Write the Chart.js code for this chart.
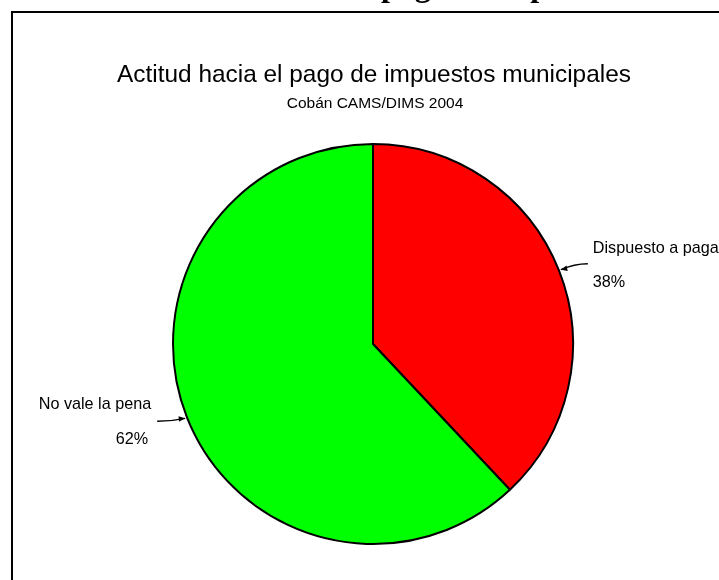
<!DOCTYPE html>
<html><head><meta charset="utf-8">
<script src="https://cdn.jsdelivr.net/npm/chart.js@4/dist/chart.umd.min.js"></script>
<style>html,body{margin:0;padding:0;background:#fff;overflow:hidden}canvas{display:block}</style>
</head><body>
<canvas id="c" width="719" height="580"></canvas>
<script>
const categories = ["Dispuesto a pagar", "No vale la pena"];
const values = [38, 62];
const percentLabels = ["38%", "62%"];
const sliceColors = ["#FF0000", "#00FF00"];
const titleText = "Actitud hacia el pago de impuestos municipales";
const subtitleText = "Cobán CAMS/DIMS 2004";
const headerText = "Actitud hacia el pago de impuestos municipales";

const SANS = '"Liberation Sans", Arial, sans-serif';
const SERIF = '"Liberation Serif", "Times New Roman", serif';

const decorPlugin = {
  id: 'decor',
  beforeDraw(chart) {
    const ctx = chart.ctx;
    ctx.save();
    ctx.fillStyle = '#fff';
    ctx.fillRect(0, 0, chart.width, chart.height);
    // cropped page header (bold serif)
    ctx.font = 'bold 32px ' + SERIF;
    ctx.fillStyle = '#000';
    ctx.textBaseline = 'alphabetic';
    ctx.textAlign = 'left';
    const pre = ctx.measureText('Actitud hacia el ').width;
    ctx.fillText(headerText, 381 - pre, -4);
    // frame
    ctx.strokeStyle = '#000';
    ctx.lineWidth = 2;
    ctx.beginPath();
    ctx.moveTo(12, chart.height + 5);
    ctx.lineTo(12, 12);
    ctx.lineTo(chart.width + 5, 12);
    ctx.stroke();
    // titles
    ctx.textAlign = 'center';
    ctx.textBaseline = 'middle';
    ctx.font = '24.4px ' + SANS;
    ctx.fillText(titleText, 374, 75);
    ctx.font = '15.5px ' + SANS;
    ctx.fillText(subtitleText, 375, 104);
    ctx.restore();
  },
  afterDraw(chart) {
    const ctx = chart.ctx;
    const meta = chart.getDatasetMeta(0);
    ctx.save();
    ctx.fillStyle = '#000';
    ctx.strokeStyle = '#000';
    ctx.lineWidth = 1.5;
    ctx.font = '16.2px ' + SANS;
    meta.data.forEach((arc, i) => {
      const p = arc.getProps(['x', 'y', 'startAngle', 'endAngle', 'outerRadius'], true);
      const mid = (p.startAngle + p.endAngle) / 2;
      const R = p.outerRadius + 2;
      const ax = p.x + Math.cos(mid) * R;
      const ay = p.y + Math.sin(mid) * R;
      const right = Math.cos(mid) >= 0;
      const tx = ax + (right ? 27 : -28);
      const ty = ay + (right ? -6 : 3);
      // leader
      ctx.beginPath();
      ctx.moveTo(tx, ty);
      ctx.quadraticCurveTo((tx + ax) / 2, ty, ax, ay);
      ctx.stroke();
      // arrow head
      const ang = Math.atan2(ay - ty, ax - tx);
      const hs = 7;
      ctx.beginPath();
      ctx.moveTo(ax, ay);
      ctx.lineTo(ax - hs * Math.cos(ang - 0.4), ay - hs * Math.sin(ang - 0.4));
      ctx.lineTo(ax - hs * Math.cos(ang + 0.4), ay - hs * Math.sin(ang + 0.4));
      ctx.closePath();
      ctx.fill();
      // texts
      ctx.textBaseline = 'middle';
      if (right) {
        ctx.textAlign = 'left';
        ctx.fillText(categories[i], tx + 5, ty - 15);
        ctx.fillText(percentLabels[i], tx + 5, ty + 19);
      } else {
        ctx.textAlign = 'right';
        ctx.fillText(categories[i], tx - 6, ty - 17);
        ctx.fillText(percentLabels[i], tx - 9, ty + 18);
      }
    });
    ctx.restore();
  }
};

new Chart(document.getElementById('c'), {
  type: 'pie',
  data: {
    labels: categories,
    datasets: [{
      data: values,
      backgroundColor: sliceColors,
      borderColor: '#000',
      borderWidth: 2,
      hoverBorderWidth: 2,
      hoverOffset: 0
    }]
  },
  options: {
    responsive: false,
    animation: false,
    events: [],
    layout: { padding: { left: 172, right: 145, top: 143, bottom: 35 } },
    plugins: {
      legend: { display: false },
      title: { display: false },
      tooltip: { enabled: false }
    }
  },
  plugins: [decorPlugin]
});
</script>
</body></html>
